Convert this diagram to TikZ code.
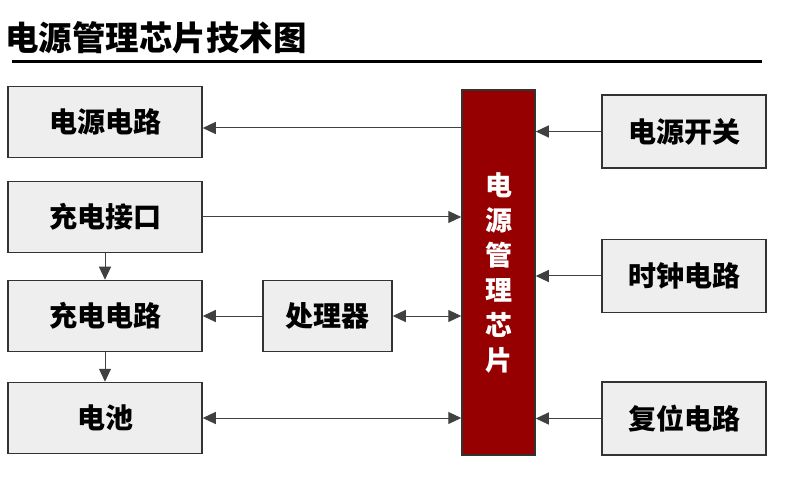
\documentclass[tikz,border=0pt]{standalone}
\usepackage{fontspec}
\newfontfamily\cjk{Noto Sans CJK SC}
\usetikzlibrary{positioning,arrows.meta}
\definecolor{chipred}{RGB}{150,0,0}
\definecolor{boxgray}{RGB}{238,238,238}

\begin{document}
\begin{tikzpicture}[x=1pt, y=-1pt, >={Triangle[length=13pt,width=12pt]},
  block/.style={draw=black!80, line width=1.5pt, fill=boxgray, inner sep=0pt,
                minimum height=71pt, font=\cjk\bfseries\fontsize{28}{30}\selectfont},
  link/.style={draw=black!75, line width=1pt}]
  \useasboundingbox (0,0) rectangle (800,478);

  % Title
  \node[anchor=west, inner sep=0pt, font=\cjk\bfseries\fontsize{33.5}{36}\selectfont] (title) at (5,38) {电源管理芯片技术图};
  \draw[line width=3pt] (12,62) -- (762,62);

  % Left column
  \node[block, minimum width=194pt] (pwr)  at (105,122) {电源电路};
  \node[block, minimum width=194pt] (port) at (105,217) {充电接口};
  \node[block, minimum width=194pt] (chg)  at (105,316) {充电电路};
  \node[block, minimum width=194pt] (bat)  at (105,418) {电池};
  \node[block, minimum width=129pt] (cpu)  at (327.5,316) {处理器};

  % Chip
  \node[draw=black!80, line width=1.5pt, fill=chipred, minimum width=73pt, minimum height=365pt,
        text=white, align=center, font=\cjk\bfseries\fontsize{27}{35}\selectfont] (chip) at (498.5,272.5)
        {电\\源\\管\\理\\芯\\片};

  % Right column
  \node[block, minimum width=164pt, minimum height=73pt] (sw)  at (684,131.5) {电源开关};
  \node[block, minimum width=164pt, minimum height=73pt] (clk) at (684,276)   {时钟电路};
  \node[block, minimum width=164pt, minimum height=73pt] (rst) at (684,418.5) {复位电路};

  % Connections
  \draw[link, ->] ([yshift=-6pt]chip.west |- pwr.east) -- ([yshift=-6pt]pwr.east);
  \draw[link, ->] (port.east) -- (chip.west |- port.east);
  \draw[link, ->] (port.south) -- (chg.north);
  \draw[link, ->] (chg.south) -- (bat.north);
  \draw[link, ->] (cpu.west) -- (chg.east);
  \draw[link, <->] (cpu.east) -- (chip.west |- cpu.east);
  \draw[link, <->] (bat.east) -- (chip.west |- bat.east);
  \draw[link, ->] (sw.west) -- (chip.east |- sw.west);
  \draw[link, ->] (clk.west) -- (chip.east |- clk.west);
  \draw[link, ->] (rst.west) -- (chip.east |- rst.west);
\end{tikzpicture}
\end{document}
